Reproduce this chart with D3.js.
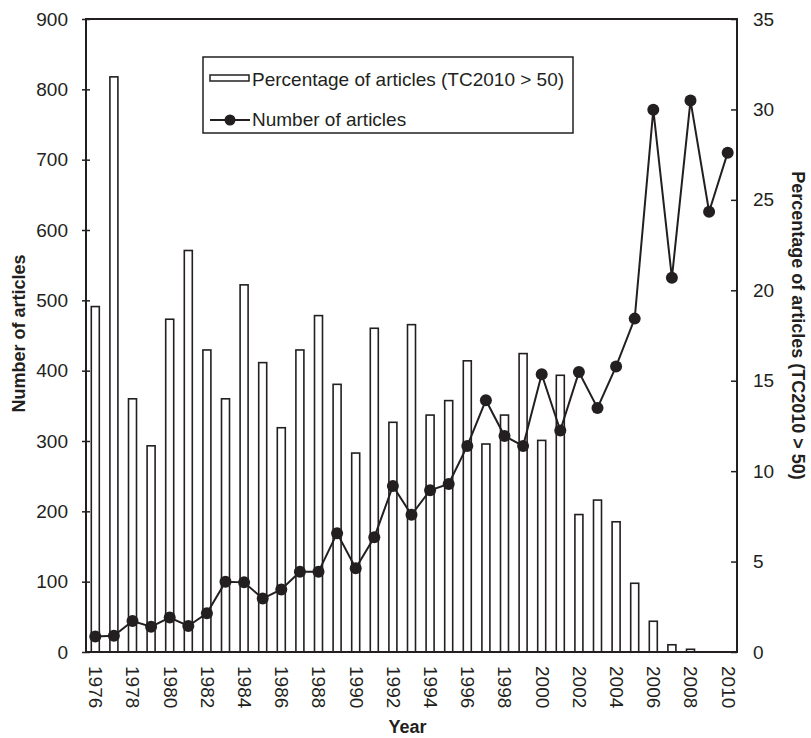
<!DOCTYPE html>
<html>
<head>
<meta charset="utf-8">
<script src="https://cdn.jsdelivr.net/npm/d3@7/dist/d3.min.js"></script>
<style>
  html, body { margin: 0; padding: 0; background: #fff; }
  svg { display: block; }
  text { font-family: "Liberation Sans", Arial, sans-serif; fill: #231f20; }
</style>
</head>
<body>
<svg id="chart" width="811" height="738"></svg>
<script>
// ---- data ----
const years = [1976, 1977, 1978, 1979, 1980, 1981, 1982, 1983, 1984, 1985,
               1986, 1987, 1988, 1989, 1990, 1991, 1992, 1993, 1994, 1995,
               1996, 1997, 1998, 1999, 2000, 2001, 2002, 2003, 2004, 2005,
               2006, 2007, 2008, 2009, 2010];
const pctHighCited = [19.1, 31.8, 14.0, 11.4, 18.4, 22.2, 16.7, 14.0, 20.3, 16.0,
                      12.4, 16.7, 18.6, 14.8, 11.0, 17.9, 12.7, 18.1, 13.1, 13.9,
                      16.1, 11.5, 13.1, 16.5, 11.7, 15.3, 7.6, 8.4, 7.2, 3.8,
                      1.7, 0.4, 0.15, 0, 0];
const numArticles = [22, 23, 44, 36, 49, 37, 55, 100, 99, 76,
                     89, 114, 114, 169, 119, 163, 236, 195, 230, 239,
                     293, 358, 307, 293, 395, 315, 398, 347, 406, 474,
                     771, 532, 784, 626, 710];
const xTickYears = [1976, 1978, 1980, 1982, 1984, 1986, 1988, 1990, 1992, 1994,
                    1996, 1998, 2000, 2002, 2004, 2006, 2008, 2010];
const leftTicks = [0, 100, 200, 300, 400, 500, 600, 700, 800, 900];
const rightTicks = [0, 5, 10, 15, 20, 25, 30, 35];

const seriesBarName = "Percentage of articles (TC2010 > 50)";
const seriesLineName = "Number of articles";

// ---- layout ----
const L = 86, R = 737, T = 19, B = 652;
const ink = "#231f20";
const svg = d3.select("#chart");

const x = d3.scalePoint().domain(years).range([L, R]).padding(0.5);
const yL = d3.scaleLinear().domain([0, 900]).range([B, T]);
const yR = d3.scaleLinear().domain([0, 35]).range([B, T]);

const rows = years.map((yr, i) => ({ yr, pct: pctHighCited[i], n: numArticles[i] }));

// bars
const bw = 8;
svg.append("g").selectAll("rect")
  .data(rows.filter(d => d.pct > 0))
  .join("rect")
  .attr("x", d => x(d.yr) - bw / 2)
  .attr("y", d => yR(d.pct))
  .attr("width", bw)
  .attr("height", d => B - yR(d.pct))
  .attr("fill", "#fff")
  .attr("stroke", ink)
  .attr("stroke-width", 1.6);

// line
svg.append("path")
  .datum(rows)
  .attr("d", d3.line().x(d => x(d.yr)).y(d => yL(d.n)))
  .attr("fill", "none")
  .attr("stroke", ink)
  .attr("stroke-width", 2);

svg.append("g").selectAll("circle")
  .data(rows)
  .join("circle")
  .attr("cx", d => x(d.yr))
  .attr("cy", d => yL(d.n))
  .attr("r", 6)
  .attr("fill", ink);

// frame
svg.append("rect")
  .attr("x", L).attr("y", T).attr("width", R - L).attr("height", B - T)
  .attr("fill", "none").attr("stroke", ink).attr("stroke-width", 2);

// left axis
const gL = svg.append("g").attr("transform", `translate(${L},0)`)
  .call(d3.axisLeft(yL).tickValues(leftTicks).tickSize(4).tickPadding(14));
gL.select(".domain").remove();
gL.selectAll(".tick line").attr("x2", -4).attr("x1", 4).attr("stroke", ink).attr("stroke-width", 1.5);
gL.selectAll(".tick text").attr("font-size", 19).attr("fill", ink)
  .style("font-family", '"Liberation Sans", Arial, sans-serif');

// right axis
const gR = svg.append("g").attr("transform", `translate(${R},0)`)
  .call(d3.axisRight(yR).tickValues(rightTicks).tickSize(-6).tickPadding(16));
gR.select(".domain").remove();
gR.selectAll(".tick line").attr("stroke", ink).attr("stroke-width", 1.5);
gR.selectAll(".tick text").attr("font-size", 19).attr("fill", ink)
  .attr("x", 16)
  .style("font-family", '"Liberation Sans", Arial, sans-serif');

// bottom axis labels (rotated)
const gB = svg.append("g").attr("transform", `translate(0,${B})`)
  .call(d3.axisBottom(x).tickValues(xTickYears).tickSize(0));
gB.select(".domain").remove();
gB.selectAll(".tick text")
  .attr("font-size", 19).attr("fill", ink)
  .style("font-family", '"Liberation Sans", Arial, sans-serif')
  .attr("transform", "rotate(90)")
  .attr("x", 14).attr("y", 0).attr("dy", "0.35em")
  .attr("text-anchor", "start");

// axis titles
svg.append("text")
  .attr("transform", `translate(25,${(T + B) / 2 - 2}) rotate(-90)`)
  .attr("text-anchor", "middle")
  .attr("font-size", 18).attr("font-weight", "bold")
  .text("Number of articles");

svg.append("text")
  .attr("transform", `translate(792,${(T + B) / 2 - 10}) rotate(90)`)
  .attr("text-anchor", "middle")
  .attr("font-size", 18).attr("font-weight", "bold")
  .text(seriesBarName);

svg.append("text")
  .attr("x", (L + R) / 2 - 4).attr("y", 733)
  .attr("text-anchor", "middle")
  .attr("font-size", 18).attr("font-weight", "bold")
  .text("Year");

// legend
const lg = svg.append("g");
lg.append("rect").attr("x", 203).attr("y", 57).attr("width", 370).attr("height", 76)
  .attr("fill", "#fff").attr("stroke", ink).attr("stroke-width", 1.5);
lg.append("rect").attr("x", 210).attr("y", 75).attr("width", 39).attr("height", 6)
  .attr("fill", "#fff").attr("stroke", ink).attr("stroke-width", 1.5);
lg.append("text").attr("x", 252).attr("y", 86).attr("font-size", 19).text(seriesBarName);
lg.append("line").attr("x1", 210).attr("x2", 250).attr("y1", 120).attr("y2", 120)
  .attr("stroke", ink).attr("stroke-width", 2);
lg.append("circle").attr("cx", 230).attr("cy", 120).attr("r", 5.5).attr("fill", ink);
lg.append("text").attr("x", 252).attr("y", 126).attr("font-size", 19).text(seriesLineName);
</script>
</body>
</html>
